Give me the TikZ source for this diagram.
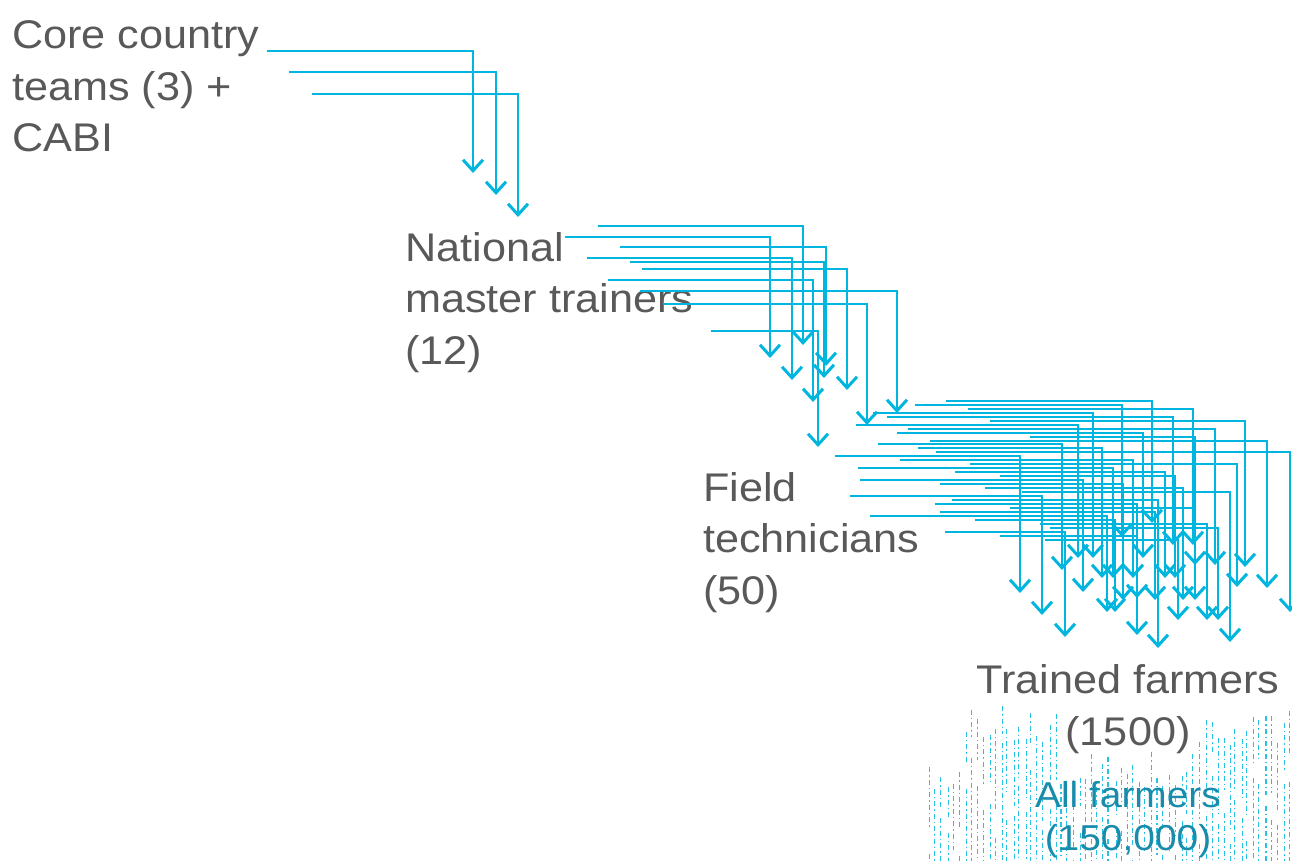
\documentclass[tikz,border=0pt]{standalone}
\usepackage{fontspec}
\setmainfont[FakeStretch=1.08]{Liberation Sans}
\usetikzlibrary{arrows.meta}
\definecolor{linkblue}{RGB}{0,182,222}
\definecolor{textgray}{RGB}{89,89,89}
\definecolor{crowdteal}{RGB}{24,140,170}
\tikzset{x=1pt, y=-1pt, % One unit is one pixel of the layout
tier/.style={ % Sets the look of each level label
text=textgray, inner sep=0pt, align=left,
font=\fontsize{40}{51.5}\selectfont},
crowd/.style={ % Label sitting in the crowd of farmers
text=crowdteal, inner sep=0pt, align=center,
font=\fontsize{36}{43}\selectfont},
link/.style={ % Sets the properties of each hand-off arrow
draw=linkblue, line width=1.6pt,
-{Straight Barb[length=11pt,width=20pt,line width=3pt]}},
speck/.style={ % Dotted strokes of the crowd
draw=linkblue!85, line width=1.1pt,
dash pattern=on 5pt off 3pt on 1.5pt off 3pt}}

\begin{document}
\begin{tikzpicture}
    \useasboundingbox (0,0) rectangle (1292,861);
    % the crowd of all farmers
    \pgfmathsetseed{12}
    \foreach \x in {928,934,...,1288} {
        \pgfmathsetmacro\ytop{(\x>1058 && \x<1195) ? 748 : (\x<960 ? 750 : 706)}
        \pgfmathsetmacro\xx{\x+rnd*3}
        \pgfmathsetmacro\ya{\ytop+rnd*40}
        \pgfmathsetmacro\yb{\ya+25+rnd*60}
        \pgfmathsetmacro\yc{\yb+8+rnd*20}
        \draw[speck] (\xx,\ya) -- (\xx,\yb) (\xx,\yc) -- (\xx,861);
    }
    \node[tier, anchor=base west] (core) at (12,152) {Core country\\teams (3) +\\CABI};
    \node[tier, anchor=base west] (master) at (405,364) {National\\master trainers\\(12)};
    \node[tier, anchor=base west] (field) at (703,604) {Field\\technicians\\(50)};
    \node[tier, align=center, anchor=base] (trained) at (1128,745) {Trained farmers\\(1500)};
    \node[crowd, anchor=base] (all) at (1128,850) {All farmers\\(150,000)};
    % core teams -> master trainers
    \foreach \i/\sx/\sy/\tx/\ty in {1/267/51/473/173, 2/289/72/496/195, 3/312/94/518/217} {
        \coordinate (c\i) at (\sx,\sy);
        \coordinate (cc\i) at (\tx,\ty);
        \draw[link] (c\i) -| (cc\i);
    }
    % master trainers -> field technicians
    \foreach \i/\sx/\sy/\tx/\ty in {1/598/226/803/345, 2/565/237/770/358, 3/620/247/826/366,
        4/587/258/792/380, 5/630/262/824/378, 6/642/269/847/390, 7/608/280/813/402,
        8/640/291/897/413, 9/663/304/867/425, 10/711/331/818/447} {
        \coordinate (m\i) at (\sx,\sy);
        \coordinate (mm\i) at (\tx,\ty);
        \draw[link] (m\i) -| (mm\i);
    }
    % field technicians -> trained farmers
    \foreach \i/\sx/\sy/\tx/\ty in {1/946/401/1152/523, 2/915/405/1122/537, 3/968/409/1193/545,
        4/873/413/1093/558, 5/887/417/1173/545, 6/990/421/1245/567, 7/856/425/1078/558,
        8/908/429/1215/565, 9/897/433/1143/558, 10/1030/437/1195/565, 11/930/441/1267/588,
        12/878/444/1062/570, 13/918/448/1102/578, 14/936/452/1290/612, 15/835/456/1020/593,
        16/900/460/1133/578, 17/970/464/1237/587, 18/858/468/1113/578, 19/955/472/1165/578,
        20/1000/476/1175/578, 21/860/480/1083/592, 22/940/484/1123/600, 23/985/488/1183/600,
        24/1022/492/1230/642, 25/850/496/1042/615, 26/952/500/1158/648, 27/935/504/1137/598,
        28/1010/508/1195/600, 29/940/512/1155/600, 30/870/516/1107/612, 31/975/520/1115/612,
        32/1040/524/1207/620, 33/1050/528/1218/620, 34/945/532/1065/637, 35/1000/536/1137/635,
        36/1045/540/1178/620} {
        \coordinate (f\i) at (\sx,\sy);
        \coordinate (ff\i) at (\tx,\ty);
        \draw[link] (f\i) -| (ff\i);
    }
\end{tikzpicture}
\end{document}
